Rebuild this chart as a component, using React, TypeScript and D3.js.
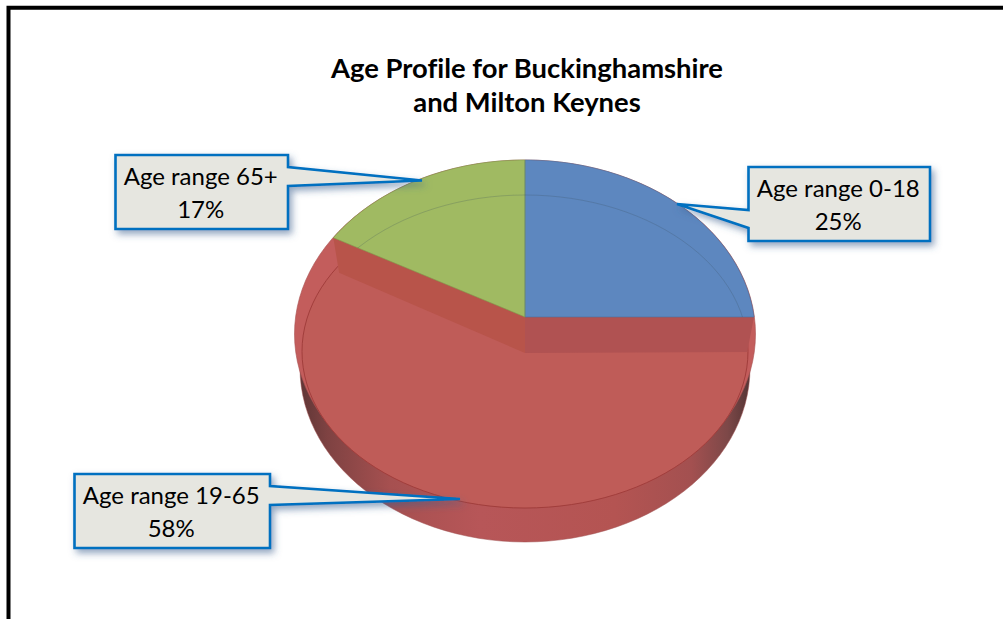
import React from "react";
import * as d3 from "d3";

const categories = ["Age range 0-18", "Age range 19-65", "Age range 65+"];
const values = [25, 58, 17];
const colors = ["#5d87bf", "#bf5c58", "#a0ba62"];
const titleLines = ["Age Profile for Buckinghamshire", "and Milton Keynes"];

type Callout = { box: [number, number, number, number]; tip: [number, number]; base: [number, number]; side: "l" | "r" };
const callouts: Callout[] = [
  { box: [748.5, 167, 930, 241], tip: [677, 204], base: [210, 228], side: "l" },
  { box: [74.5, 474, 270, 548], tip: [460, 499], base: [486, 505], side: "r" },
  { box: [115.5, 155, 288, 229], tip: [422, 180.5], base: [167, 186], side: "r" },
];

const cx = 525;
const top = { cy: 334, rx: 230.5, ry: 174 };
const floor = { cy: 351.5, rx: 223, ry: 156.5 };
const wall = { cy: 368, rx: 225, ry: 174 };
const apexY = 317;
const floorDrop = 35;

// perspective projection of the unit circle on to the top ellipse
const persp = (a: number) => {
  const u = Math.sin(a), v = -Math.cos(a);
  const off = apexY - top.cy;
  const c = (off * 2) / (2 * top.ry);
  const w = 1 + c * v;
  return [cx + ((top.rx - 1.5) * u) / w, top.cy + (top.ry * v + off) / w] as [number, number];
};

const line = d3.line<[number, number]>();
const angles = d3.range(0, 121).map((i) => (i / 120) * 2 * Math.PI);
const ellipse = (e: { cy: number; rx: number; ry: number }) =>
  line(angles.map((a) => [cx + e.rx * Math.sin(a), e.cy - e.ry * Math.cos(a)] as [number, number]))! + "Z";

const arcs = d3.pie<number>().sort(null)(values);
const toFloor = (p: [number, number]) =>
  [cx + (p[0] - cx) * 0.97, p[1] + floorDrop] as [number, number];

const wedge = (s: number, e: number) => {
  const n = Math.max(2, Math.ceil((e - s) * 40));
  const pts = d3.range(n + 1).map((i) => persp(s + ((e - s) * i) / n));
  return line([[cx, apexY], ...pts])! + "Z";
};
const wallQuad = (a: number) => {
  const p = persp(a);
  return line([[cx, apexY], p, toFloor(p), [cx, apexY + floorDrop + 1]])! + "Z";
};

const calloutPath = (c: Callout) => {
  const [x0, y0, x1, y1] = c.box;
  const bx = c.side === "l" ? x0 : x1;
  const pts: [number, number][] =
    c.side === "l"
      ? [[x0, y0], [x1, y0], [x1, y1], [x0, y1], [bx, c.base[1]], c.tip, [bx, c.base[0]]]
      : [[x0, y0], [x1, y0], [bx, c.base[0]], c.tip, [bx, c.base[1]], [x1, y1], [x0, y1]];
  return line(pts)! + "Z";
};

export default function App() {
  const blue = arcs[0];
  const red = arcs[1];
  const green = arcs[2];
  const font = "Lato, 'Noto Sans', sans-serif";
  return (
    <svg
      width={1003}
      height={619}
      viewBox="0 0 1003 619"
      style={{ position: "fixed", left: 0, top: 0, display: "block", background: "#fff", fontVariantLigatures: "none" }}
    >
      <defs>
        <linearGradient id="wallG" gradientUnits="userSpaceOnUse" x1={300} x2={750} y1={0} y2={0}>
          <stop offset="0" stopColor="#5f3636" />
          <stop offset="0.06" stopColor="#7e4242" />
          <stop offset="0.2" stopColor="#a65050" />
          <stop offset="0.4" stopColor="#b75658" />
          <stop offset="0.7" stopColor="#b45452" />
          <stop offset="0.87" stopColor="#a35050" />
          <stop offset="0.95" stopColor="#7d4848" />
          <stop offset="1" stopColor="#553535" />
        </linearGradient>
        <filter id="shadow" x="-20%" y="-20%" width="140%" height="140%">
          <feDropShadow dx={3} dy={4} stdDeviation={3.5} floodColor="#3a5f8f" floodOpacity={0.55} />
        </filter>
      </defs>

      {/* frame */}
      <rect x={8.5} y={7.75} width={1100} height={800} fill="none" stroke="#000" strokeWidth={4} />

      {/* title */}
      {titleLines.map((t, i) => (
        <text key={t} x={527} y={78 + i * 34} textAnchor="middle" fontFamily={font} fontWeight={700} fontSize={27.4} fill="#000">
          {t}
        </text>
      ))}

      {/* pie body */}
      <path d={ellipse(wall)} fill="url(#wallG)" stroke="#a05050" strokeWidth={0.5} />
      <path d={ellipse(top)} fill="#c35d5c" stroke="#a85050" strokeWidth={0.6} />
      <path d={ellipse(floor)} fill={colors[1]} />
      <path d={ellipse(floor)} fill="none" stroke="#a23e3c" strokeWidth={1} />

      {/* inner walls of the red slice */}
      <path d={wallQuad(red.startAngle)} fill="#b05252" />
      <path d={wallQuad(red.endAngle)} fill="#b8544a" />

      {/* slices */}
      <path d={wedge(blue.startAngle, blue.endAngle)} fill={colors[0]} />
      <path d={wedge(green.startAngle, green.endAngle)} fill={colors[2]} />
      <path d={wedge(blue.startAngle, blue.endAngle)} fill="none" stroke="#4f6f9c" strokeWidth={0.6} />
      <path d={wedge(green.startAngle, green.endAngle)} fill="none" stroke="#7f9a4c" strokeWidth={0.6} />

      {/* inner ring seen on the back slices */}
      <clipPath id="backClip">
        <path d={wedge(blue.startAngle, blue.endAngle)} />
        <path d={wedge(green.startAngle, green.endAngle)} />
      </clipPath>
      <path d={ellipse(floor)} fill="none" stroke="#3c4f5c" strokeOpacity={0.3} strokeWidth={0.8} clipPath="url(#backClip)" />

      {/* callouts */}
      {callouts.map((c, i) => (
        <g key={categories[i]}>
          <path d={calloutPath(c)} fill="#e6e6e0" stroke="#0070c0" strokeWidth={2.6} strokeLinejoin="miter" strokeMiterlimit={3} filter="url(#shadow)" />
          <text x={(c.box[0] + c.box[2]) / 2 - 1} y={c.box[1] + 30} textAnchor="middle" fontFamily={font} fontSize={24} fill="#000">
            {categories[i]}
          </text>
          <text x={(c.box[0] + c.box[2]) / 2 - 1} y={c.box[1] + 63} textAnchor="middle" fontFamily={font} fontSize={24} fill="#000">
            {values[i]}%
          </text>
        </g>
      ))}
    </svg>
  );
}
